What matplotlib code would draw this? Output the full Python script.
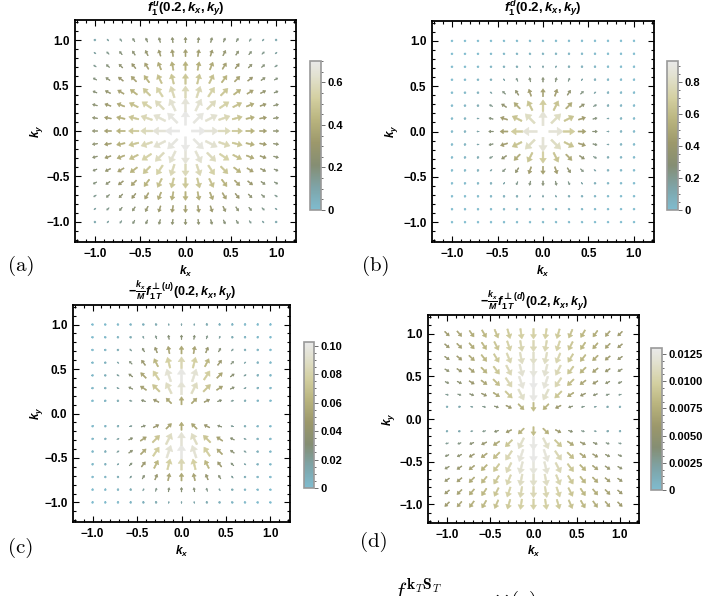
import numpy as np
import matplotlib as mpl
mpl.use('Agg')
import matplotlib.pyplot as plt
from matplotlib.colors import LinearSegmentedColormap, Normalize
from matplotlib.ticker import MultipleLocator

plt.rcParams['font.family'] = ['Liberation Sans', 'DejaVu Sans']
plt.rcParams['font.weight'] = 'bold'
plt.rcParams['mathtext.fontset'] = 'custom'
plt.rcParams['mathtext.rm'] = 'Liberation Sans:bold'
plt.rcParams['mathtext.it'] = 'Liberation Sans:italic:bold'
plt.rcParams['mathtext.bf'] = 'Liberation Sans:bold'
plt.rcParams['mathtext.sf'] = 'DejaVu Sans:bold'

# grid points of the upper-right quadrant (kx, ky >= 0), mirrored to the full plane
k_grid = [0.0, 0.1429, 0.2857, 0.4286, 0.5714, 0.7143, 0.8571, 1.0]

# vector lengths, rows = ky (0 -> 1), columns = kx (0 -> 1)
mag_a = [
    [0.00, 0.69, 0.65, 0.58, 0.50, 0.42, 0.34, 0.26],
    [0.69, 0.67, 0.63, 0.57, 0.49, 0.41, 0.33, 0.25],
    [0.65, 0.63, 0.59, 0.54, 0.47, 0.39, 0.31, 0.24],
    [0.58, 0.57, 0.54, 0.49, 0.42, 0.35, 0.28, 0.21],
    [0.50, 0.49, 0.47, 0.42, 0.36, 0.30, 0.24, 0.19],
    [0.42, 0.41, 0.39, 0.35, 0.30, 0.25, 0.20, 0.15],
    [0.34, 0.33, 0.31, 0.28, 0.24, 0.20, 0.16, 0.12],
    [0.26, 0.25, 0.24, 0.21, 0.19, 0.15, 0.12, 0.09],
]
mag_b = [
    [0.000, 0.860, 0.690, 0.470, 0.280, 0.140, 0.061, 0.023],
    [0.860, 0.800, 0.640, 0.440, 0.260, 0.130, 0.057, 0.021],
    [0.690, 0.640, 0.510, 0.350, 0.210, 0.100, 0.045, 0.017],
    [0.470, 0.440, 0.350, 0.240, 0.140, 0.071, 0.031, 0.012],
    [0.280, 0.260, 0.210, 0.140, 0.083, 0.042, 0.018, 0.007],
    [0.140, 0.130, 0.100, 0.071, 0.042, 0.021, 0.009, 0.004],
    [0.061, 0.057, 0.045, 0.031, 0.018, 0.009, 0.004, 0.002],
    [0.023, 0.021, 0.017, 0.012, 0.007, 0.004, 0.002, 0.001],
]
mag_c = [
    [0.0000, 0.0000, 0.0000, 0.0000, 0.0000, 0.0000, 0.0000, 0.0000],
    [0.0575, 0.0538, 0.0439, 0.0312, 0.0194, 0.0105, 0.0050, 0.0021],
    [0.0939, 0.0877, 0.0715, 0.0509, 0.0317, 0.0171, 0.0081, 0.0034],
    [0.1000, 0.0935, 0.0763, 0.0543, 0.0338, 0.0183, 0.0086, 0.0036],
    [0.0830, 0.0776, 0.0633, 0.0451, 0.0278, 0.0152, 0.0072, 0.0030],
    [0.0564, 0.0527, 0.0428, 0.0305, 0.0189, 0.0103, 0.0049, 0.0020],
    [0.0319, 0.0298, 0.0243, 0.0173, 0.0108, 0.0058, 0.0028, 0.0011],
    [0.0154, 0.0144, 0.0117, 0.0083, 0.0052, 0.0028, 0.0013, 0.0006],
]
mag_d = [
    [0.0000, 0.0000, 0.0000, 0.0000, 0.0000, 0.0000, 0.0000, 0.0000],
    [0.0085, 0.0076, 0.0058, 0.0041, 0.0030, 0.0022, 0.0017, 0.0014],
    [0.0127, 0.0115, 0.0092, 0.0070, 0.0054, 0.0042, 0.0033, 0.0027],
    [0.0129, 0.0122, 0.0106, 0.0086, 0.0069, 0.0056, 0.0046, 0.0038],
    [0.0123, 0.0118, 0.0107, 0.0092, 0.0078, 0.0065, 0.0055, 0.0047],
    [0.0115, 0.0112, 0.0104, 0.0093, 0.0081, 0.0071, 0.0061, 0.0053],
    [0.0107, 0.0105, 0.0100, 0.0091, 0.0082, 0.0073, 0.0065, 0.0057],
    [0.0100, 0.0099, 0.0095, 0.0089, 0.0082, 0.0074, 0.0067, 0.0060],
]

# 'out': radial outward; 'up'/'down': radial, sign follows ky
directions = ['out', 'out', 'up', 'down']
titles = [r'$f_1^u(0.2,k_x,k_y)$',
          r'$f_1^d(0.2,k_x,k_y)$',
          r'$-\frac{k_x}{M}f_{1\,T}^{\mathsf{\bot}(u)}(0.2,k_x,k_y)$',
          r'$-\frac{k_x}{M}f_{1\,T}^{\mathsf{\bot}(d)}(0.2,k_x,k_y)$']
panel_tags = ['(a)', '(b)', '(c)', '(d)']
bar_max = [0.70, 0.93, 0.1025, 0.01305]
bar_ticks = [[0, 0.2, 0.4, 0.6],
             [0, 0.2, 0.4, 0.6, 0.8],
             [0, 0.02, 0.04, 0.06, 0.08, 0.10],
             [0, 0.0025, 0.005, 0.0075, 0.01, 0.0125]]
bar_labels = [['0', '0.2', '0.4', '0.6'],
              ['0', '0.2', '0.4', '0.6', '0.8'],
              ['0', '0.02', '0.04', '0.06', '0.08', '0.10'],
              ['0', '0.0025', '0.0050', '0.0075', '0.0100', '0.0125']]

cmap = LinearSegmentedColormap.from_list('mma', [
    (0.00, '#7fbccf'), (0.15, '#7ea4a8'), (0.30, '#858e73'), (0.45, '#9c986b'),
    (0.60, '#b8b37d'), (0.75, '#d3cfa0'), (0.90, '#e2e1cf'), (1.00, '#e9e9e9')])

W, H = 704, 596
fig = plt.figure(figsize=(W / 100, H / 100), dpi=100)

def px(x0, y0, x1, y1):
    return [x0 / W, 1 - y1 / H, (x1 - x0) / W, (y1 - y0) / H]

ax_boxes = [px(75, 20, 296, 242), px(432, 21, 654, 242),
            px(73, 305, 290, 522), px(428, 315, 639, 523)]
bar_boxes = [px(310, 61, 321, 210), px(667, 61, 678, 210),
             px(304, 342, 314, 488), px(651, 348, 662, 490)]
tag_pos = [(8, 266), (362, 266), (8, 548), (360, 542)]
ylabel_x = [-0.136, -0.144, -0.129, -0.147]

kk = np.array([-k for k in k_grid[::-1]] + k_grid[1:])
X, Y = np.meshgrid(kk, kk)
iq = np.abs(np.arange(15) - 7)

for n, mag in enumerate([mag_a, mag_b, mag_c, mag_d]):
    ax = fig.add_axes(ax_boxes[n])
    quad = np.array(mag)
    M = quad[iq][:, iq]
    R = np.hypot(X, Y)
    R[R == 0] = 1
    if directions[n] == 'out':
        s = np.ones_like(X)
    elif directions[n] == 'up':
        s = np.sign(Y)
    else:
        s = -np.sign(Y)
    U = s * M * X / R
    V = s * M * Y / R
    keep = M > 0
    norm = Normalize(0, bar_max[n])
    ax.quiver(X[keep], Y[keep], U[keep], V[keep], M[keep], cmap=cmap, norm=norm,
              pivot='mid', angles='xy', scale_units='xy', scale=quad.max() / 0.158,
              units='xy', width=0.026, headwidth=4.0, headlength=2.9,
              headaxislength=2.9, minshaft=2.4, minlength=0.85,
              linewidths=0.4, edgecolors='face')
    ax.set_xlim(-1.22, 1.22)
    ax.set_ylim(-1.22, 1.22)
    ax.set_xticks([-1, -0.5, 0, 0.5, 1])
    ax.set_yticks([-1, -0.5, 0, 0.5, 1])
    ax.set_xticklabels(['\u22121.0', '\u22120.5', '0.0', '0.5', '1.0'])
    ax.set_yticklabels(['\u22121.0', '\u22120.5', '0.0', '0.5', '1.0'])
    ax.xaxis.set_minor_locator(MultipleLocator(0.1))
    ax.yaxis.set_minor_locator(MultipleLocator(0.1))
    ax.tick_params(which='both', direction='in', top=True, right=True,
                   labelsize=8.5, pad=4, width=0.8)
    ax.tick_params(which='major', length=4)
    ax.tick_params(which='minor', length=2)
    for sp in ax.spines.values():
        sp.set_linewidth(1.3)
    ax.set_xlabel(r'$k_x$', fontsize=8.5)
    ax.set_ylabel(r'$k_y$', fontsize=8.5)
    ax.xaxis.set_label_coords(0.5, -0.1)
    ax.yaxis.set_label_coords(ylabel_x[n], 0.5)
    ax.text(0.5, 1.008, titles[n], transform=ax.transAxes, ha='center', va='bottom',
            fontsize=9.5 if n < 2 else 9)

    cax = fig.add_axes(bar_boxes[n])
    cb = fig.colorbar(mpl.cm.ScalarMappable(norm=norm, cmap=cmap), cax=cax)
    cb.set_ticks(bar_ticks[n])
    cb.set_ticklabels(bar_labels[n])
    cb.ax.yaxis.set_minor_locator(MultipleLocator(bar_ticks[n][1] / 4))
    cb.ax.tick_params(which='both', labelsize=8, width=0.6, color='#555555', pad=2)
    cb.ax.tick_params(which='major', length=3)
    cb.ax.tick_params(which='minor', length=1.5)
    cb.outline.set_edgecolor('#999999')
    cb.outline.set_linewidth(1.2)

    fig.text(tag_pos[n][0] / W, 1 - tag_pos[n][1] / H, panel_tags[n],
             family='cmr10', fontsize=15, weight='normal', va='center')

# fragments of the caption line below the figure (cut off at the page edge, as in the source)
fig.text(393 / W, 1 - 599 / H, r'$f^{\mathbf{k}_T\mathbf{S}_T}$', fontsize=16,
         math_fontfamily='cm', va='baseline')
fig.text(493 / W, 1 - 606 / H, r'$\perp(q)$', fontsize=15,
         math_fontfamily='cm', va='baseline')

fig.savefig('out.png', dpi=100)
